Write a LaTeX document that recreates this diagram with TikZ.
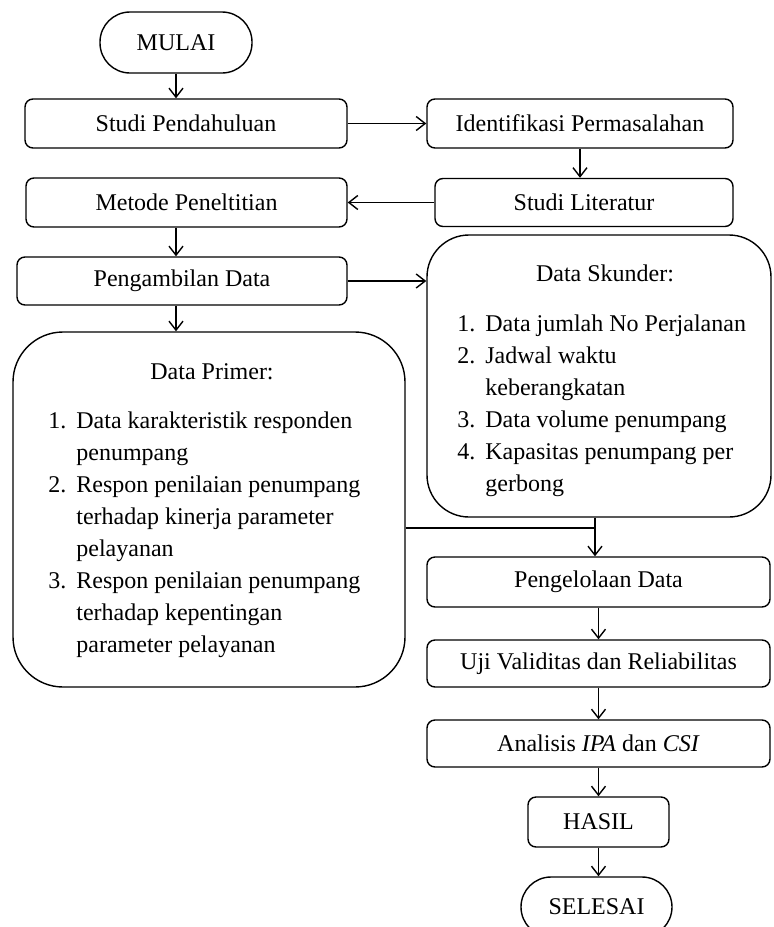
\documentclass[tikz,border=0pt]{standalone}
\usepackage{fontspec}
\setmainfont{Liberation Serif}
\usetikzlibrary{arrows.meta}
\newcommand{\listnum}[1]{\makebox[14pt][l]{#1}}
\newcommand{\listcont}{\hspace*{14pt}}
\tikzset{
    process box/.style={
        draw, line width=0.7pt, rounded corners=4pt, inner sep=0pt,
        font=\fontsize{12}{16}\selectfont
    },
    terminal box/.style={
        process box, rounded corners=15pt
    },
    big box/.style={
        draw, line width=0.7pt, inner sep=0pt
    },
    box text/.style={
        inner sep=0pt, font=\fontsize{12}{16}\selectfont
    },
    list text/.style={
        box text, anchor=north west, align=left
    },
    flow arrow/.style={
        line width=0.7pt, -{Straight Barb[length=4.5pt,width=7pt]}
    }
}

\begin{document}
\begin{tikzpicture}[x=0.5pt, y=-0.5pt]

\clip (0,0) rectangle (773,927);
\fill[white] (0,0) rectangle (773,927);

% left column
\node[terminal box, minimum width=76pt, minimum height=30.5pt] (mulai) at (176, 42.5) {MULAI};
\node[process box, minimum width=161pt, minimum height=24.5pt] (sp) at (186, 123.5) {Studi Pendahuluan};
\node[process box, minimum width=160.5pt, minimum height=24.5pt] (mp) at (186.5, 202.5) {Metode Peneltitian};
\node[process box, minimum width=165pt, minimum height=24pt] (pd) at (182, 281) {Pengambilan Data};
\node[big box, rounded corners=25pt, minimum width=196pt, minimum height=177.5pt] (dp) at (209, 509.5) {};
\node[box text] (dptitle) at (212, 372) {Data Primer:};
\node[list text] (dplist) at (48, 411) {%
    \listnum{1.}Data karakteristik responden\\
    \listcont penumpang\\
    \listnum{2.}Respon penilaian penumpang\\
    \listcont terhadap kinerja parameter\\
    \listcont pelayanan\\
    \listnum{3.}Respon penilaian penumpang\\
    \listcont terhadap kepentingan\\
    \listcont parameter pelayanan};

% right column
\node[process box, minimum width=153pt, minimum height=24.5pt] (ip) at (580, 123.5) {Identifikasi Permasalahan};
\node[process box, minimum width=149pt, minimum height=24pt] (sl) at (584, 202.5) {Studi Literatur};
\node[big box, rounded corners=21pt, minimum width=172pt, minimum height=141pt] (ds) at (599, 376) {};
\node[box text] (dstitle) at (605, 273) {Data Skunder:};
\node[list text] (dslist) at (457, 314) {%
    \listnum{1.}Data jumlah No Perjalanan\\
    \listnum{2.}Jadwal waktu\\
    \listcont keberangkatan\\
    \listnum{3.}Data volume penumpang\\
    \listnum{4.}Kapasitas penumpang per\\
    \listcont gerbong};
\node[process box, minimum width=171.5pt, minimum height=25pt] (pg) at (598.5, 582) {Pengelolaan Data};
\node[process box, minimum width=171.5pt, minimum height=23.5pt] (uji) at (598.5, 663.5) {Uji Validitas dan Reliabilitas};
\node[process box, minimum width=171.5pt, minimum height=23.5pt] (an) at (598.5, 743.5) {Analisis \textit{IPA} dan \textit{CSI}};
\node[process box, minimum width=70.5pt, minimum height=25pt] (hasil) at (598.5, 822) {HASIL};
\node[terminal box, minimum width=75.5pt, minimum height=30pt] (selesai) at (596.5, 907) {SELESAI};

% connectors
\draw[flow arrow] (mulai) -- (mulai |- sp.north);
\draw[flow arrow] (sp.east) -- (ip.west);
\draw[flow arrow] (ip) -- (ip |- sl.north);
\draw[flow arrow] (sl.west) -- (mp.east);
\draw[flow arrow] (mp.south -| mulai) -- (mulai |- pd.north);
\draw[flow arrow] (pd.east) -- (pd.east -| ds.west);
\draw[flow arrow] (pd.south -| mulai) -- (mulai |- dp.north);

\coordinate (join) at (595, 528);
\draw[line width=0.7pt] (dp.east |- join) -- (join);
\draw[flow arrow] (ds.south -| join) -- (join |- pg.north);
\draw[flow arrow] (pg) -- (uji);
\draw[flow arrow] (uji) -- (an);
\draw[flow arrow] (an) -- (hasil);
\draw[flow arrow] (hasil) -- (hasil |- selesai.north);

\end{tikzpicture}
\end{document}
